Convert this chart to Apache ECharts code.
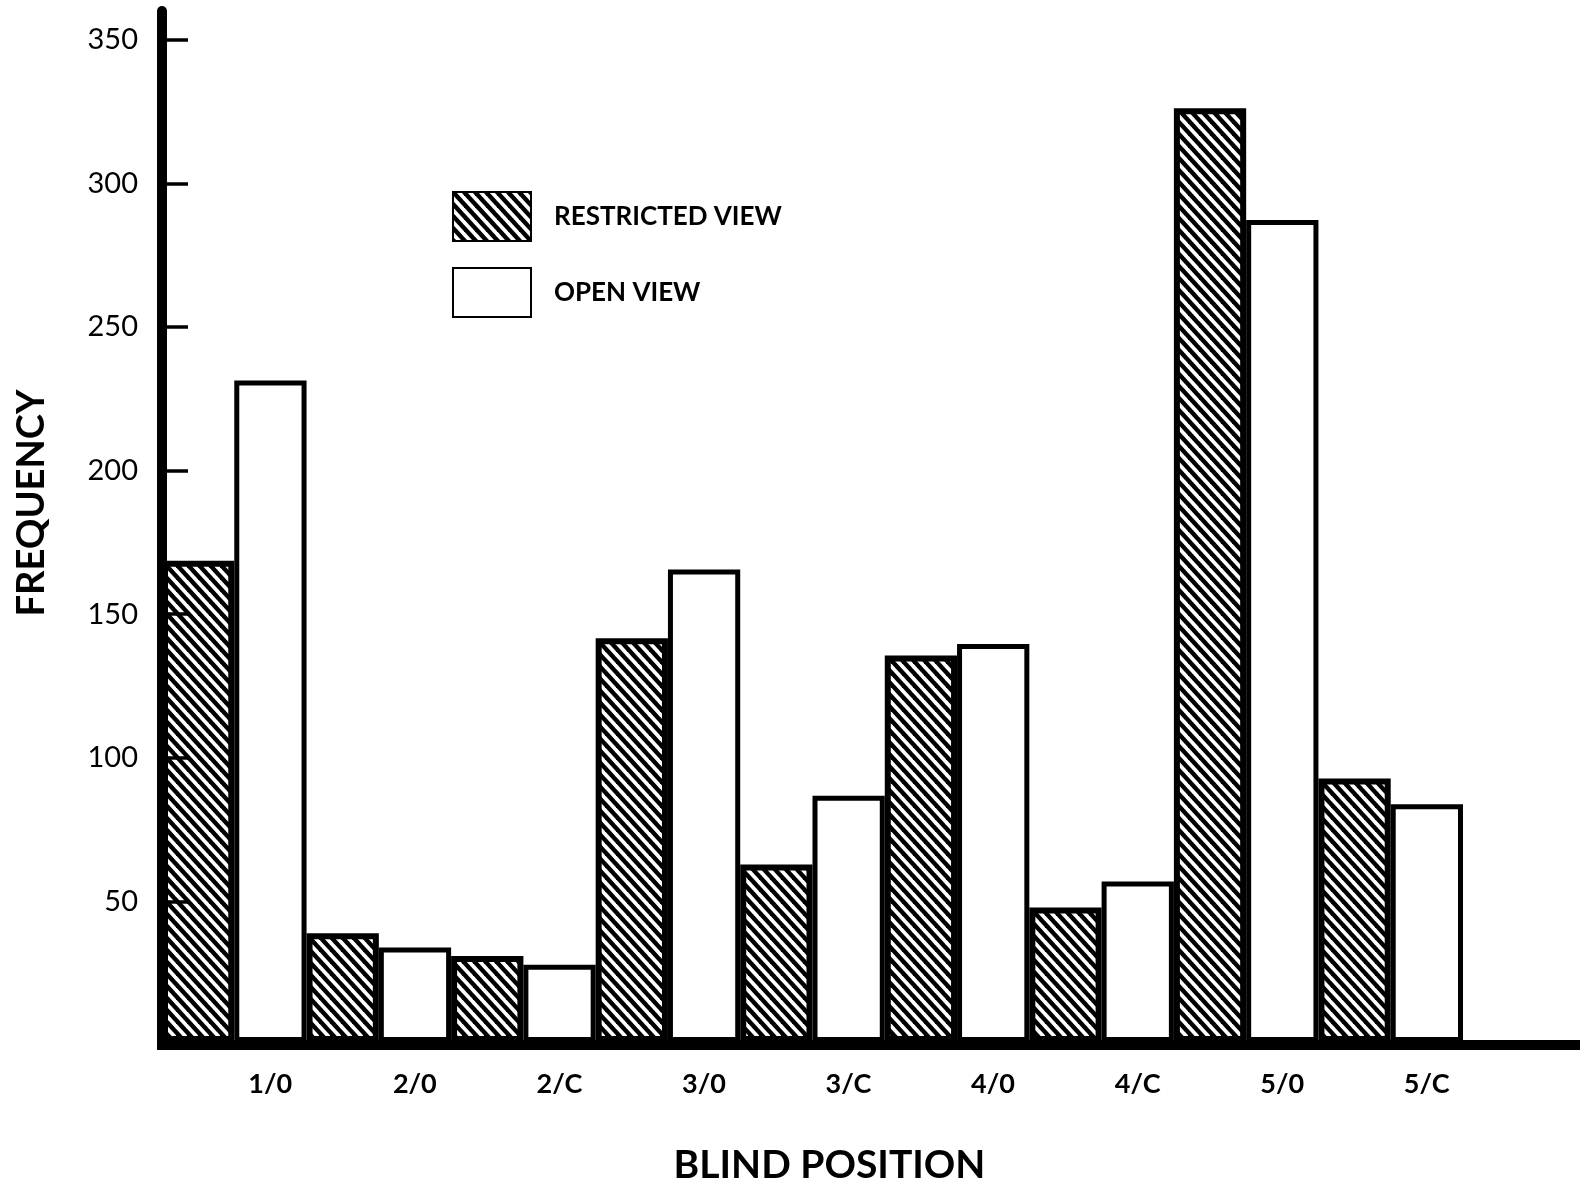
<!DOCTYPE html>
<html>
<head>
<meta charset="utf-8">
<script src="https://cdn.jsdelivr.net/npm/echarts@6/dist/echarts.min.js"></script>
<style>
html,body{margin:0;padding:0;background:#ffffff;}
#chart{width:1589px;height:1190px;}
</style>
</head>
<body>
<div id="chart"></div>
<script>
const categories = ['1/0', '2/0', '2/C', '3/0', '3/C', '4/0', '4/C', '5/0', '5/C'];
const restrictedView = [168, 38, 30, 141, 62, 135, 47, 326, 92];
const openView = [231, 33, 27, 165, 86, 139, 56, 287, 83];
const yTicks = [50, 100, 150, 200, 250, 300, 350];
const seriesNames = ['RESTRICTED VIEW', 'OPEN VIEW'];

function makeHatch() {
  const w = 11, h = 12;
  const c = document.createElement('canvas');
  c.width = w; c.height = h;
  const ctx = c.getContext('2d');
  ctx.fillStyle = '#ffffff';
  ctx.fillRect(0, 0, w, h);
  ctx.strokeStyle = '#000000';
  ctx.lineWidth = 4.4;
  for (let k = -2; k <= 2; k++) {
    ctx.beginPath();
    ctx.moveTo(k * w - w, -h);
    ctx.lineTo(k * w + 2 * w, 2 * h);
    ctx.stroke();
  }
  return c;
}

const FONT = 'Lato, "DejaVu Sans", sans-serif';
const chart = echarts.init(document.getElementById('chart'), null, {renderer: 'canvas'});
const hatch = makeHatch();

const option = {
  backgroundColor: '#ffffff',
  animation: false,
  grid: [
    {left: 162, right: 14, top: 11, bottom: 145, containLabel: false},
    {left: 162, right: 126, top: 11, bottom: 145, containLabel: false}
  ],
  legend: {
    orient: 'vertical',
    left: 447,
    top: 186,
    itemWidth: 78,
    itemHeight: 49,
    itemGap: 25,
    icon: 'rect',
    selectedMode: false,
    data: seriesNames,
    textStyle: {
      fontFamily: FONT,
      fontSize: 26,
      fontWeight: 'bold',
      color: '#000',
      padding: [0, 0, 0, 18]
    }
  },
  xAxis: [
    {
      type: 'value', gridIndex: 0, min: 0, max: 1, z: 10,
      axisLine: {show: true, onZero: false, lineStyle: {color: '#000', width: 10, cap: 'square'}},
      axisTick: {show: false}, axisLabel: {show: false}, splitLine: {show: false}
    },
    {
      type: 'category', gridIndex: 1, data: categories,
      axisLine: {show: false}, axisTick: {show: false}, splitLine: {show: false},
      axisLabel: {
        fontFamily: FONT, fontSize: 27, fontWeight: 'bold', color: '#000',
        margin: 29, padding: [0, 0, 0, 72]
      },
      name: 'BLIND POSITION',
      nameLocation: 'middle',
      nameGap: 104,
      nameTextStyle: {
        fontFamily: FONT, fontSize: 39, fontWeight: 'bold', color: '#000',
        padding: [0, 0, 0, 34]
      }
    }
  ],
  yAxis: [
    {
      type: 'value', gridIndex: 0, min: 0, max: 360, z: 10,
      axisLine: {show: true, lineStyle: {color: '#000', width: 10}},
      axisTick: {show: true, inside: true, length: 26, customValues: yTicks, lineStyle: {color: '#000', width: 3.5}},
      axisLabel: {
        customValues: yTicks,
        fontFamily: FONT, fontSize: 29, color: '#000', margin: 24
      },
      splitLine: {show: false},
      name: 'FREQUENCY',
      nameLocation: 'middle',
      nameRotate: 90,
      nameGap: 111,
      nameTextStyle: {
        fontFamily: FONT, fontSize: 38, fontWeight: 'bold', color: '#000',
        padding: [0, 0, 0, 50]
      }
    },
    {
      type: 'value', gridIndex: 1, min: 0, max: 360, show: false
    }
  ],
  series: [
    {
      name: seriesNames[0],
      type: 'bar',
      xAxisIndex: 1, yAxisIndex: 1,
      data: restrictedView,
      barGap: '0%',
      barCategoryGap: '0%',
      itemStyle: {color: {image: hatch, repeat: 'repeat'}, borderColor: '#000', borderWidth: 6},
      emphasis: {disabled: true}
    },
    {
      name: seriesNames[1],
      type: 'bar',
      xAxisIndex: 1, yAxisIndex: 1,
      data: openView,
      barGap: '0%',
      barCategoryGap: '0%',
      itemStyle: {color: '#ffffff', borderColor: '#000', borderWidth: 5},
      emphasis: {disabled: true}
    }
  ]
};
chart.setOption(option);
</script>
</body>
</html>
